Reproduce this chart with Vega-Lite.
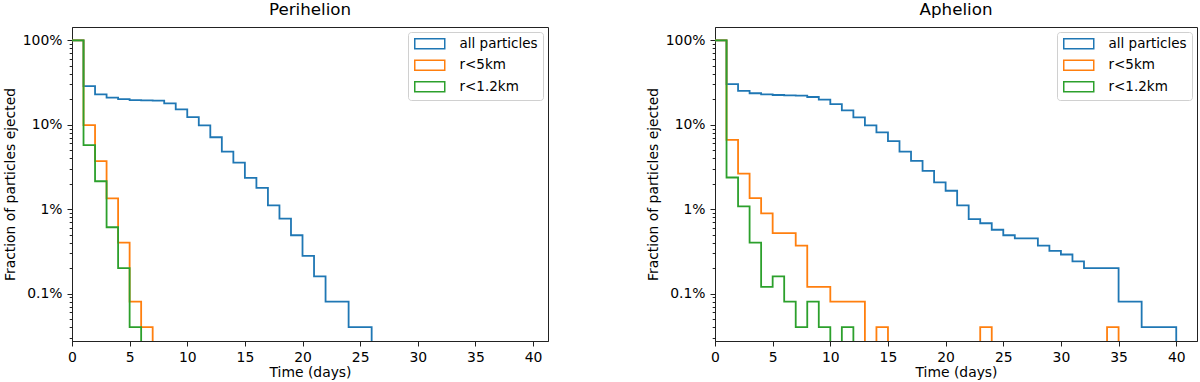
{
  "$schema": "https://vega.github.io/schema/vega-lite/v6.json",
  "padding": {"left": 2, "top": 1, "right": 0, "bottom": 0},
  "bounds": "flush",
  "spacing": 167,
  "config": {
    "font": "DejaVu Sans",
    "background": "white",
    "view": {"stroke": "#222", "strokeWidth": 1},
    "title": {"fontSize": 16.7, "fontWeight": "normal", "color": "#000", "offset": 8.7, "baseline": "alphabetic", "anchor": "middle"},
    "axis": {"labelFontSize": 13.9, "titleFontSize": 13.9, "titleFontWeight": "normal", "labelColor": "#000", "titleColor": "#000", "domainColor": "#222", "tickColor": "#222", "tickWidth": 1, "grid": false, "labelOverlap": false, "labelFlush": false},
    "legend": {"orient": "top-right", "offset": 5, "padding": 5, "fillColor": "white", "strokeColor": "#d0d0d0", "cornerRadius": 3, "labelFontSize": 13.5, "labelColor": "#000", "symbolType": "M-1,-1H5V1H-1Z", "symbolSize": 100, "symbolStrokeWidth": 1.5, "symbolFillColor": "transparent", "labelOffset": 33, "rowPadding": 4.5, "title": null}
  },
  "datasets": {
    "peri": [
      {"t": 0, "f": 1, "s": "all particles"}, {"t": 1, "f": 0.287, "s": "all particles"}, {"t": 2, "f": 0.229, "s": "all particles"}, {"t": 3, "f": 0.209, "s": "all particles"}, {"t": 4, "f": 0.201, "s": "all particles"}, {"t": 5, "f": 0.196, "s": "all particles"}, {"t": 6, "f": 0.194, "s": "all particles"}, {"t": 7, "f": 0.193, "s": "all particles"}, {"t": 8, "f": 0.179, "s": "all particles"}, {"t": 9, "f": 0.152, "s": "all particles"}, {"t": 10, "f": 0.123, "s": "all particles"}, {"t": 11, "f": 0.098, "s": "all particles"}, {"t": 12, "f": 0.071, "s": "all particles"}, {"t": 13, "f": 0.048, "s": "all particles"}, {"t": 14, "f": 0.0355, "s": "all particles"}, {"t": 15, "f": 0.0235, "s": "all particles"}, {"t": 16, "f": 0.0179, "s": "all particles"}, {"t": 17, "f": 0.0111, "s": "all particles"}, {"t": 18, "f": 0.0077, "s": "all particles"}, {"t": 19, "f": 0.0049, "s": "all particles"}, {"t": 20, "f": 0.0028, "s": "all particles"}, {"t": 21, "f": 0.0016, "s": "all particles"}, {"t": 22, "f": 0.0008, "s": "all particles"}, {"t": 23, "f": 0.0008, "s": "all particles"}, {"t": 24, "f": 0.0004, "s": "all particles"}, {"t": 25, "f": 0.0004, "s": "all particles"}, {"t": 26, "f": 0.000001, "s": "all particles"},
      {"t": 0, "f": 1, "s": "r<5km"}, {"t": 1, "f": 0.099, "s": "r<5km"}, {"t": 2, "f": 0.037, "s": "r<5km"}, {"t": 3, "f": 0.0134, "s": "r<5km"}, {"t": 4, "f": 0.004, "s": "r<5km"}, {"t": 5, "f": 0.0008, "s": "r<5km"}, {"t": 6, "f": 0.0004, "s": "r<5km"}, {"t": 7, "f": 0.000001, "s": "r<5km"},
      {"t": 0, "f": 1, "s": "r<1.2km"}, {"t": 1, "f": 0.0573, "s": "r<1.2km"}, {"t": 2, "f": 0.0214, "s": "r<1.2km"}, {"t": 3, "f": 0.0061, "s": "r<1.2km"}, {"t": 4, "f": 0.002, "s": "r<1.2km"}, {"t": 5, "f": 0.0004, "s": "r<1.2km"}, {"t": 6, "f": 0.000001, "s": "r<1.2km"}
    ],
    "aph": [
      {"t": 0, "f": 1, "s": "all particles"}, {"t": 1, "f": 0.302, "s": "all particles"}, {"t": 2, "f": 0.251, "s": "all particles"}, {"t": 3, "f": 0.236, "s": "all particles"}, {"t": 4, "f": 0.229, "s": "all particles"}, {"t": 5, "f": 0.225, "s": "all particles"}, {"t": 6, "f": 0.223, "s": "all particles"}, {"t": 7, "f": 0.221, "s": "all particles"}, {"t": 8, "f": 0.213, "s": "all particles"}, {"t": 9, "f": 0.198, "s": "all particles"}, {"t": 10, "f": 0.175, "s": "all particles"}, {"t": 11, "f": 0.148, "s": "all particles"}, {"t": 12, "f": 0.122, "s": "all particles"}, {"t": 13, "f": 0.098, "s": "all particles"}, {"t": 14, "f": 0.081, "s": "all particles"}, {"t": 15, "f": 0.064, "s": "all particles"}, {"t": 16, "f": 0.0481, "s": "all particles"}, {"t": 17, "f": 0.0373, "s": "all particles"}, {"t": 18, "f": 0.0284, "s": "all particles"}, {"t": 19, "f": 0.0207, "s": "all particles"}, {"t": 20, "f": 0.0165, "s": "all particles"}, {"t": 21, "f": 0.0111, "s": "all particles"}, {"t": 22, "f": 0.0076, "s": "all particles"}, {"t": 23, "f": 0.0068, "s": "all particles"}, {"t": 24, "f": 0.0057, "s": "all particles"}, {"t": 25, "f": 0.0049, "s": "all particles"}, {"t": 26, "f": 0.0045, "s": "all particles"}, {"t": 27, "f": 0.0045, "s": "all particles"}, {"t": 28, "f": 0.0037, "s": "all particles"}, {"t": 29, "f": 0.0032, "s": "all particles"}, {"t": 30, "f": 0.0029, "s": "all particles"}, {"t": 31, "f": 0.0024, "s": "all particles"}, {"t": 32, "f": 0.002, "s": "all particles"}, {"t": 33, "f": 0.002, "s": "all particles"}, {"t": 34, "f": 0.002, "s": "all particles"}, {"t": 35, "f": 0.0008, "s": "all particles"}, {"t": 36, "f": 0.0008, "s": "all particles"}, {"t": 37, "f": 0.0004, "s": "all particles"}, {"t": 38, "f": 0.0004, "s": "all particles"}, {"t": 39, "f": 0.0004, "s": "all particles"}, {"t": 40, "f": 0.000001, "s": "all particles"},
      {"t": 0, "f": 1, "s": "r<5km"}, {"t": 1, "f": 0.066, "s": "r<5km"}, {"t": 2, "f": 0.0264, "s": "r<5km"}, {"t": 3, "f": 0.0135, "s": "r<5km"}, {"t": 4, "f": 0.0089, "s": "r<5km"}, {"t": 5, "f": 0.0052, "s": "r<5km"}, {"t": 6, "f": 0.0052, "s": "r<5km"}, {"t": 7, "f": 0.0037, "s": "r<5km"}, {"t": 8, "f": 0.0012, "s": "r<5km"}, {"t": 9, "f": 0.0012, "s": "r<5km"}, {"t": 10, "f": 0.0008, "s": "r<5km"}, {"t": 11, "f": 0.0008, "s": "r<5km"}, {"t": 12, "f": 0.0008, "s": "r<5km"}, {"t": 13, "f": 0.000001, "s": "r<5km"}, {"t": 14, "f": 0.0004, "s": "r<5km"}, {"t": 15, "f": 0.000001, "s": "r<5km"}, {"t": 23, "f": 0.0004, "s": "r<5km"}, {"t": 24, "f": 0.000001, "s": "r<5km"}, {"t": 34, "f": 0.0004, "s": "r<5km"}, {"t": 35, "f": 0.000001, "s": "r<5km"},
      {"t": 0, "f": 1, "s": "r<1.2km"}, {"t": 1, "f": 0.0237, "s": "r<1.2km"}, {"t": 2, "f": 0.0108, "s": "r<1.2km"}, {"t": 3, "f": 0.004, "s": "r<1.2km"}, {"t": 4, "f": 0.0012, "s": "r<1.2km"}, {"t": 5, "f": 0.0016, "s": "r<1.2km"}, {"t": 6, "f": 0.0008, "s": "r<1.2km"}, {"t": 7, "f": 0.0004, "s": "r<1.2km"}, {"t": 8, "f": 0.0008, "s": "r<1.2km"}, {"t": 9, "f": 0.0004, "s": "r<1.2km"}, {"t": 10, "f": 0.000001, "s": "r<1.2km"}, {"t": 11, "f": 0.0004, "s": "r<1.2km"}, {"t": 12, "f": 0.000001, "s": "r<1.2km"}
    ]
  },
  "hconcat": [
    {
      "title": "Perihelion",
      "width": 476,
      "height": 314,
      "data": {"name": "peri"},
      "mark": {"type": "line", "interpolate": "step-after", "clip": true, "strokeWidth": 1.8},
      "encoding": {
        "x": {"field": "t", "type": "quantitative", "scale": {"domain": [0, 41.3], "nice": false, "zero": false}, "axis": {"title": "Time (days)", "values": [0, 5, 10, 15, 20, 25, 30, 35, 40], "tickSize": 5, "labelPadding": 4, "titlePadding": 2}},
        "y": {"field": "f", "type": "quantitative", "scale": {"type": "log", "domain": [0.000274, 1.437], "nice": false}, "axis": {"title": "Fraction of particles ejected", "values": [0.0003, 0.0004, 0.0005, 0.0006, 0.0007, 0.0008, 0.0009, 0.001, 0.002, 0.003, 0.004, 0.005, 0.006, 0.007, 0.008, 0.009, 0.01, 0.02, 0.03, 0.04, 0.05, 0.06, 0.07, 0.08, 0.09, 0.1, 0.2, 0.3, 0.4, 0.5, 0.6, 0.7, 0.8, 0.9, 1], "labelExpr": "abs(log(datum.value)/LN10 - round(log(datum.value)/LN10)) < 0.001 ? format(datum.value*100, '~g') + '%' : ''", "tickSize": {"condition": {"test": "abs(log(datum.value)/LN10 - round(log(datum.value)/LN10)) < 0.001", "value": 5}, "value": 2.8}, "labelPadding": 5, "titlePadding": 5}},
        "color": {"field": "s", "type": "nominal", "scale": {"domain": ["all particles", "r<5km", "r<1.2km"], "range": ["#1f77b4", "#ff7f0e", "#2ca02c"]}, "legend": {"title": null}}
      }
    },
    {
      "title": "Aphelion",
      "width": 482,
      "height": 314,
      "data": {"name": "aph"},
      "mark": {"type": "line", "interpolate": "step-after", "clip": true, "strokeWidth": 1.8},
      "encoding": {
        "x": {"field": "t", "type": "quantitative", "scale": {"domain": [0, 41.8], "nice": false, "zero": false}, "axis": {"title": "Time (days)", "values": [0, 5, 10, 15, 20, 25, 30, 35, 40], "tickSize": 5, "labelPadding": 4, "titlePadding": 2}},
        "y": {"field": "f", "type": "quantitative", "scale": {"type": "log", "domain": [0.000274, 1.437], "nice": false}, "axis": {"title": "Fraction of particles ejected", "values": [0.0003, 0.0004, 0.0005, 0.0006, 0.0007, 0.0008, 0.0009, 0.001, 0.002, 0.003, 0.004, 0.005, 0.006, 0.007, 0.008, 0.009, 0.01, 0.02, 0.03, 0.04, 0.05, 0.06, 0.07, 0.08, 0.09, 0.1, 0.2, 0.3, 0.4, 0.5, 0.6, 0.7, 0.8, 0.9, 1], "labelExpr": "abs(log(datum.value)/LN10 - round(log(datum.value)/LN10)) < 0.001 ? format(datum.value*100, '~g') + '%' : ''", "tickSize": {"condition": {"test": "abs(log(datum.value)/LN10 - round(log(datum.value)/LN10)) < 0.001", "value": 5}, "value": 2.8}, "labelPadding": 5, "titlePadding": 5}},
        "color": {"field": "s", "type": "nominal", "scale": {"domain": ["all particles", "r<5km", "r<1.2km"], "range": ["#1f77b4", "#ff7f0e", "#2ca02c"]}, "legend": {"title": null}}
      }
    }
  ],
  "resolve": {"scale": {"color": "independent", "y": "independent", "x": "independent"}, "legend": {"color": "independent"}}
}
